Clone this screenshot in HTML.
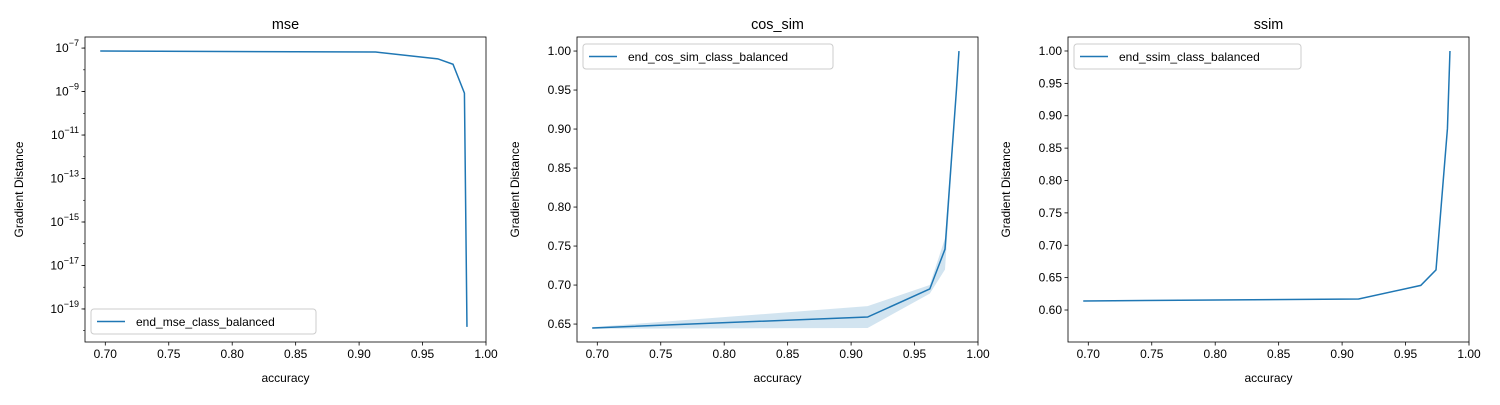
<!DOCTYPE html>
<html><head><meta charset="utf-8"><style>
body{margin:0;background:#fff}
svg text{font-family:"Liberation Sans","DejaVu Sans",sans-serif;fill:#000}
</style></head><body>
<svg id="c" width="1500" height="400" viewBox="0 0 1500 400" xmlns="http://www.w3.org/2000/svg"></svg>
<script>
const accuracy=[0.696,0.913,0.962,0.974,0.983,0.985];
const mseValues=[7.3e-8,6.6e-8,3.2e-8,1.8e-8,8.5e-10,1.5e-20];
const cosValues=[0.645,0.659,0.695,0.746,0.95,1.0];
const cosLow=[0.644,0.645,0.689,0.72,0.945,0.999];
const cosHigh=[0.646,0.673,0.70,0.76,0.955,1.001];
const ssimValues=[0.614,0.617,0.638,0.662,0.88,1.0];
const xTicks=[0.70,0.75,0.80,0.85,0.90,0.95,1.00];
const mseTicks=[-7,-9,-11,-13,-15,-17,-19];
const cosTicks=[0.65,0.70,0.75,0.80,0.85,0.90,0.95,1.00];
const ssimTicks=[0.60,0.65,0.70,0.75,0.80,0.85,0.90,0.95,1.00];
const titles=["mse","cos_sim","ssim"];
const legends=["end_mse_class_balanced","end_cos_sim_class_balanced","end_ssim_class_balanced"];
const svg=document.getElementById('c');const NS="http://www.w3.org/2000/svg";
function mk(t,a,p){const e=document.createElementNS(NS,t);for(const k in a)e.setAttribute(k,a[k]);(p||svg).appendChild(e);return e;}
const topY=37,bot=342,W=401;
const panels=[
 {x0:85,ymin:-20.52,ymax:-6.49,log:true,vals:mseValues,ticks:mseTicks},
 {x0:577,ymin:0.627,ymax:1.018,vals:cosValues,ticks:cosTicks,low:cosLow,high:cosHigh},
 {x0:1068,ymin:0.5506,ymax:1.0216,vals:ssimValues,ticks:ssimTicks}];
panels.forEach((P,i)=>{
 const g=mk('g',{});
 
 
 const sx=v=>P.x0+(v-0.684)/(1-0.684)*W;
 const syRaw=t=>bot-(t-P.ymin)/(P.ymax-P.ymin)*(bot-topY);
 const sy=v=>syRaw(P.log?Math.log10(v):v);
 if(P.low){let d='M'+accuracy.map((a,j)=>sx(a)+','+sy(P.high[j])).join('L');
  for(let j=accuracy.length-1;j>=0;j--)d+='L'+sx(accuracy[j])+','+sy(P.low[j]);
  const b=mk('path',{d:d+'Z',fill:'#1f77b4','fill-opacity':0.2,stroke:'none'},g);
  
  }
 const ln=mk('path',{d:'M'+accuracy.map((a,j)=>sx(a)+','+sy(P.vals[j])).join('L'),fill:'none',stroke:'#1f77b4','stroke-width':1.5},g);
 
 
 const fr=mk('rect',{x:P.x0,y:topY,width:W,height:bot-topY,fill:'none',stroke:'#000','stroke-width':0.8},g);
 
 
 xTicks.forEach(v=>{const x=sx(v);mk('line',{x1:x,x2:x,y1:bot,y2:bot+3.5,stroke:'#000','stroke-width':0.8},g);
  const t=mk('text',{x:x,y:bot+16,'font-size':12,'text-anchor':'middle'},g);t.textContent=v.toFixed(2);
  
  });
 P.ticks.forEach(v=>{const y=syRaw(v);mk('line',{x1:P.x0-3.5,x2:P.x0,y1:y,y2:y,stroke:'#000','stroke-width':0.8},g);
  const t=mk('text',{x:P.x0-6,y:y+4,'font-size':12,'text-anchor':'end'},g);
  if(P.log){t.textContent='10';const s=mk('tspan',{dy:-6,'font-size':9},t);s.textContent='\u2212'+(-v);}
  else t.textContent=v.toFixed(2);
  
  });
 if(P.log){for(let d=-20;d<=-7;d++){const y=syRaw(d);mk('line',{x1:P.x0-2,x2:P.x0,y1:y,y2:y,stroke:'#000','stroke-width':0.6},g);}}
 const tt=mk('text',{x:P.x0+W/2,y:29,'font-size':14.4,'text-anchor':'middle'},g);tt.textContent=titles[i];
 
 
 const xl=mk('text',{x:P.x0+W/2,y:382,'font-size':12,'text-anchor':'middle'},g);xl.textContent='accuracy';
 
 
 const yx=P.x0-(P.log?62:58);
 const yl=mk('text',{x:yx,y:(topY+bot)/2,'font-size':12,'text-anchor':'middle',transform:`rotate(-90 ${yx} ${(topY+bot)/2})`},g);yl.textContent='Gradient Distance';
 
 
 const lw=[225,250,227][i];const ly=i==0?309:44;
 const lg=mk('g',{},g);
 
 
 mk('rect',{x:P.x0+6,y:ly,width:lw,height:25,rx:3,fill:'#fff','fill-opacity':0.8,stroke:'#ccc'},lg);
 mk('line',{x1:P.x0+12,x2:P.x0+40,y1:ly+12.5,y2:ly+12.5,stroke:'#1f77b4','stroke-width':1.5},lg);
 const lt=mk('text',{x:P.x0+51,y:ly+17,'font-size':12},lg);lt.textContent=legends[i];
});
</script>
</body></html>
